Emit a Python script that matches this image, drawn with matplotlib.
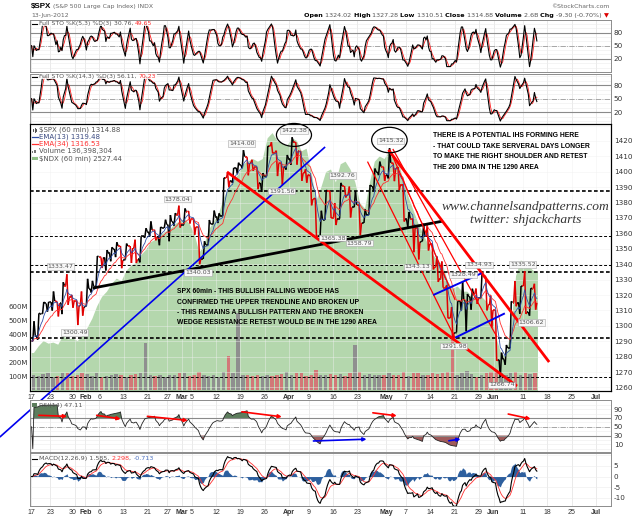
import numpy as np
import pandas as pd
import matplotlib
matplotlib.use("Agg")
import matplotlib.pyplot as plt
import matplotlib.transforms as mtransforms
from matplotlib.collections import LineCollection
from matplotlib.patches import Ellipse, Rectangle
from matplotlib.lines import Line2D

W, H = 640, 517
HOLIDAYS = ["2012-01-16", "2012-02-20", "2012-04-06", "2012-05-28", "2012-07-04"]
FIRST = "2012-01-17"

# daily SPX values (Jan 17 .. Jun 13 2012)
spx_high = [
    1303.0, 1308.1, 1315.5, 1315.5, 1322.3, 1315.6, 1328.3, 1333.5, 1320.1, 1316.3, 1322.3,
    1330.5, 1329.2, 1345.3, 1344.4, 1349.2, 1351.0, 1354.3, 1351.9, 1353.4, 1351.8,
    1355.9, 1358.0, 1363.4, 1367.8, 1362.3, 1364.2, 1368.9, 1371.9, 1373.1, 1378.0,
    1376.2, 1374.5, 1369.6, 1364.3, 1354.9, 1368.7, 1374.8, 1373.0, 1396.1, 1399.4, 1402.6,
    1405.9, 1414.0, 1409.5, 1407.8, 1402.9, 1399.2, 1416.6, 1419.2, 1413.7, 1405.5, 1410.9,
    1422.4, 1419.2, 1413.3, 1401.6, 1397.1, 1383.0, 1374.7, 1388.1, 1387.6, 1379.7,
    1392.8, 1390.8, 1390.4, 1387.4, 1378.5, 1375.6, 1391.4, 1402.1, 1406.6, 1403.1,
    1415.3, 1405.5, 1403.1, 1391.5, 1373.9, 1369.6, 1363.7, 1365.9, 1365.2, 1353.4, 1344.9,
    1341.8, 1326.4, 1312.2, 1316.0, 1328.5, 1320.7, 1324.1, 1324.2, 1334.9, 1332.0, 1319.7,
    1310.3, 1282.6, 1287.6, 1315.9, 1329.1, 1325.8, 1335.5, 1324.4, 1327.3]
spx_low = [
    1290.0, 1291.0, 1307.8, 1309.2, 1309.9, 1306.1, 1307.6, 1313.6, 1311.7, 1300.5, 1306.6,
    1313.0, 1321.6, 1326.0, 1337.5, 1335.9, 1341.9, 1344.6, 1337.4, 1343.0, 1340.8,
    1340.8, 1341.2, 1357.2, 1358.1, 1355.5, 1352.3, 1363.5, 1354.9, 1365.0, 1363.8,
    1365.7, 1366.4, 1359.1, 1340.0, 1343.4, 1352.6, 1365.9, 1366.7, 1371.4, 1389.9, 1392.8,
    1398.8, 1402.4, 1397.7, 1400.6, 1388.7, 1386.9, 1397.1, 1411.9, 1397.2, 1391.6, 1401.4,
    1404.5, 1404.6, 1394.1, 1392.9, 1378.2, 1357.4, 1358.6, 1368.8, 1369.9, 1365.4,
    1369.6, 1383.3, 1370.3, 1376.9, 1358.8, 1366.8, 1372.1, 1387.3, 1397.8, 1394.0,
    1395.7, 1393.9, 1388.1, 1367.7, 1363.9, 1347.8, 1343.1, 1355.0, 1348.9, 1336.6, 1328.5,
    1324.8, 1304.9, 1292.0, 1295.7, 1310.0, 1296.5, 1310.5, 1314.2, 1318.0, 1310.0, 1298.9,
    1277.3, 1266.7, 1274.7, 1285.6, 1312.7, 1307.8, 1307.7, 1306.6, 1310.5]
spx_close = [
    1293.7, 1308.0, 1314.5, 1315.4, 1316.0, 1314.7, 1326.1, 1318.4, 1316.3, 1313.0, 1312.4,
    1324.1, 1325.5, 1344.9, 1344.3, 1347.1, 1350.0, 1351.9, 1342.6, 1351.8, 1350.5,
    1343.2, 1358.0, 1361.2, 1362.2, 1357.7, 1363.5, 1365.7, 1367.6, 1372.2, 1365.7,
    1374.1, 1369.6, 1364.3, 1343.4, 1352.6, 1365.9, 1370.9, 1371.1, 1395.9, 1394.3, 1402.6,
    1404.2, 1409.8, 1405.5, 1402.9, 1392.8, 1397.1, 1416.5, 1412.5, 1405.5, 1403.3, 1408.5,
    1419.0, 1413.4, 1399.0, 1398.1, 1382.2, 1358.6, 1368.7, 1387.6, 1370.3, 1369.6,
    1390.8, 1385.1, 1376.9, 1378.5, 1366.9, 1372.0, 1390.7, 1400.0, 1403.4, 1397.9,
    1405.8, 1402.3, 1391.6, 1369.1, 1369.6, 1363.7, 1354.6, 1358.0, 1353.4, 1338.4, 1330.7,
    1324.8, 1304.9, 1295.2, 1316.0, 1316.6, 1318.9, 1320.7, 1317.8, 1332.4, 1313.3, 1310.3,
    1278.0, 1278.2, 1285.5, 1315.1, 1315.0, 1325.7, 1308.9, 1324.2, 1314.9]
spx_first_open = 1290.2

# $NDX overlay (green area)
ndx_close = [
    2372, 2385, 2395, 2390, 2392, 2388, 2405, 2398, 2400, 2395, 2405,
    2420, 2438, 2462, 2480, 2490, 2505, 2515, 2510, 2530, 2540,
    2545, 2560, 2570, 2585, 2590, 2600, 2605, 2610, 2620, 2625,
    2630, 2620, 2600, 2565, 2580, 2610, 2625, 2640, 2670, 2690, 2705,
    2715, 2735, 2740, 2745, 2740, 2745, 2785, 2795, 2780, 2775, 2770,
    2785, 2780, 2760, 2765, 2720, 2665, 2690, 2720, 2725, 2700,
    2735, 2740, 2725, 2700, 2660, 2650, 2700, 2740, 2750, 2745,
    2760, 2750, 2735, 2700, 2670, 2645, 2620, 2600, 2580, 2560, 2550,
    2540, 2510, 2495, 2500, 2490, 2490, 2480, 2475, 2480, 2470, 2455,
    2400, 2370, 2365, 2420, 2520, 2550, 2545, 2535, 2527]

# tallest hourly volume bar per day, millions
volume_m = [
    110, 100, 115, 120, 95, 100, 125, 120, 100, 110, 120,
    115, 100, 120, 90, 100, 105, 115, 110, 95, 105,
    115, 120, 335, 110, 100, 110, 95, 110, 105, 125,
    120, 100, 105, 130, 110, 100, 105, 95, 130, 240, 120,
    550, 110, 105, 100, 110, 100, 105, 100, 110, 115, 130,
    110, 120, 125, 100, 110, 140, 110, 105, 115, 110,
    115, 100, 120, 320, 130, 110, 115, 105, 110, 105,
    120, 105, 110, 130, 100, 120, 125, 110, 105, 120, 115,
    120, 130, 415, 110, 120, 135, 115, 95, 110, 125, 130,
    140, 125, 110, 120, 130, 110, 120, 115, 120]

hlines_thick = [1387.5, 1335.0, 1292.0]
hlines_thin = [1358.5, 1339.5, 1266.5]

xtick_dates = ["2012-01-17", "2012-01-23", "2012-01-30", "2012-02-01", "2012-02-06",
               "2012-02-13", "2012-02-21", "2012-02-27", "2012-03-01", "2012-03-05",
               "2012-03-12", "2012-03-19", "2012-03-26", "2012-04-02", "2012-04-09",
               "2012-04-16", "2012-04-23", "2012-05-01", "2012-05-07", "2012-05-14",
               "2012-05-21", "2012-05-29", "2012-06-01", "2012-06-11", "2012-06-18",
               "2012-06-25", "2012-07-02"]
xtick_labels = ["17", "23", "30", "Feb", "6", "13", "21", "27", "Mar", "5", "12", "19", "26",
                "Apr", "9", "16", "23", "May", "7", "14", "21", "29", "Jun", "11", "18", "25", "Jul"]
MONTHS = {"Feb", "Mar", "Apr", "May", "Jun", "Jul"}

# price labels on the chart: text, day position, price position
price_labels = [
    ("1422.38", 54.0, 1426.5), ("1415.32", 73.9, 1420.0), ("1414.00", 43.3, 1418.5),
    ("1392.76", 63.9, 1397.5), ("1378.04", 30.0, 1382.3), ("1391.56", 51.5, 1387.5),
    ("1365.38", 62.0, 1357.0), ("1358.79", 67.4, 1353.6), ("1343.13", 79.3, 1338.2),
    ("1340.03", 34.3, 1334.5), ("1333.47", 6.0, 1338.4), ("1300.49", 9.0, 1295.8),
    ("1328.49", 88.7, 1333.0), ("1334.93", 92.0, 1339.5), ("1335.52", 101.0, 1339.9),
    ("1306.62", 102.7, 1302.0), ("1291.98", 86.8, 1286.9), ("1266.74", 96.7, 1261.6)]

# hand drawn trend lines: (day0, price0, day1, price1, colour, width)
trendlines = [
    (12.7, 1324.5, 84.6, 1368.0, "black", 2.0),
    (-6.4, 1227.8, 60.4, 1416.1, "#0000ee", 1.2),
    (40.25, 1399.9, 99.8, 1260.9, "#ff0000", 2.0),
    (73.4, 1414.2, 106.4, 1276.5, "#ff0000", 2.0),
    (69.1, 1406.6, 87.1, 1291.9, "#ff0000", 0.9),
    (73.7, 1414.2, 87.1, 1316.8, "#ff0000", 0.9),
    (74.3, 1414.8, 95.7, 1292.7, "#ff0000", 0.9),
    (82.6, 1320.0, 92.5, 1334.1, "#0000ee", 1.4),
    (87.1, 1292.3, 97.3, 1308.1, "#0000ee", 1.4),
]
# RSI divergence arrows: (day0, rsi0, day1, rsi1, colour)
rsi_arrows = [
    (1.6, 76.1, 7.4, 73.8, "#ff0000"), (13.5, 76.1, 18.4, 67.9, "#ff0000"),
    (23.9, 73.8, 32.2, 64.4, "#ff0000"), (43.3, 84.1, 51.5, 72.7, "#ff0000"),
    (70.2, 81.8, 75.1, 75.0, "#ff0000"), (98.0, 79.0, 102.6, 67.9, "#ff0000"),
    (58.0, 17.6, 68.9, 21.7, "#0000ee"), (85.8, 18.1, 88.2, 22.0, "#0000ee")]

IHS_TEXT = ["THERE IS A POTENTIAL IHS FORMING HERE",
            "- THAT COULD TAKE SERVERAL DAYS LONGER",
            "TO MAKE THE RIGHT SHOULDER AND RETEST",
            "THE 200 DMA IN THE 1290 AREA"]
WEDGE_TEXT = ["SPX 60min - THIS BULLISH FALLING WEDGE HAS",
              "CONFIRMED THE UPPER TRENDLINE AND BROKEN UP",
              "- THIS REMAINS A BULLISH PATTERN AND THE BROKEN",
              "WEDGE RESISTANCE RETEST WOULD BE IN THE 1290 AREA"]


def day_idx(date):
    return float(np.busday_count(FIRST, date, holidays=HOLIDAYS))


def ema(x, span):
    return pd.Series(x).ewm(span=span, adjust=False).mean().to_numpy()


def full_sto(p, n, sk, sd):
    s = pd.Series(p)
    hh = s.rolling(n, min_periods=1).max()
    ll = s.rolling(n, min_periods=1).min()
    raw = (100 * (s - ll) / (hh - ll).replace(0, np.nan)).fillna(50)
    k = raw.rolling(sk, min_periods=1).mean()
    d = k.rolling(sd, min_periods=1).mean()
    return k.to_numpy(), d.to_numpy()


def rsi(p, n):
    d = np.diff(p, prepend=p[0])
    up = pd.Series(np.clip(d, 0, None)).ewm(alpha=1.0 / n, adjust=False).mean()
    dn = pd.Series(np.clip(-d, 0, None)).ewm(alpha=1.0 / n, adjust=False).mean()
    return (100 - 100 / (1 + up / dn.replace(0, np.nan))).fillna(50).to_numpy()


# intraday path: open, low/high, high/low, close for each day
hi = np.array(spx_high)
lo = np.array(spx_low)
cl = np.array(spx_close)
op = np.r_[spx_first_open, cl[:-1]]
nd = len(cl)
px_x, px_y, px_up = [], [], []
for i in range(nd):
    up = cl[i] >= op[i]
    mids = (lo[i], hi[i]) if up else (hi[i], lo[i])
    px_x += [i + 0.125, i + 0.375, i + 0.625, i + 0.875]
    px_y += [op[i], mids[0], mids[1], cl[i]]
    px_up += [up] * 4
px_x = np.array(px_x)
px_y = np.array(px_y)
px_sm = pd.Series(px_y).rolling(4, min_periods=1).mean().to_numpy()

ema13 = ema(px_y, 7)
ema34 = ema(px_y, 19)
k1, d1 = full_sto(px_y, 6, 4, 3)
k2, d2 = full_sto(px_y, 16, 4, 3)
rsi14 = rsi(px_sm, 14)
macd = ema(px_y, 9) - ema(px_y, 20)
signal = ema(macd, 7)
hist = macd - signal

xt = [day_idx(d) for d in xtick_dates]
XL = (-0.2, 119.1)

fig = plt.figure(figsize=(W / 100, H / 100), dpi=100)
fig.patch.set_facecolor("white")


def rect(l, t, r, b):
    return [l / W, 1 - b / H, (r - l) / W, (b - t) / H]


def fy(y):
    return 1 - y / H


def ftext(x, y, s, **kw):
    kw.setdefault("va", "center")
    kw.setdefault("family", "DejaVu Sans")
    return fig.text(x / W, fy(y), s, **kw)


def text_row(x, y, pieces, size, align="left", bg=False):
    r = fig.canvas.get_renderer()
    seq = pieces if align == "left" else list(reversed(pieces))
    for s, color, weight in seq:
        t = ftext(x, y, s, fontsize=size, color=color, fontweight=weight, ha=align, zorder=20)
        if bg:
            t.set_bbox(dict(boxstyle="square,pad=0.05", fc="white", ec="none", alpha=0.85))
        w = t.get_window_extent(r).width
        x = x + w if align == "left" else x - w
    return x


def style_panel(ax, yl, ticks):
    ax.set_xlim(*XL)
    ax.set_ylim(*yl)
    for s in ax.spines.values():
        s.set_color("#8c8c8c")
        s.set_linewidth(0.7)
    ax.set_xticks(xt)
    ax.set_xticklabels([])
    ax.tick_params(length=0, labelsize=5.2, colors="#333333", pad=2)
    for x in xt:
        ax.axvline(x, color="#e2e2e2", lw=0.5, zorder=0)
    ax.yaxis.tick_right()
    ax.set_yticks(ticks)
    ax.set_yticklabels([str(t) for t in ticks])


def bottom_labels(ax):
    ax.set_xticklabels(xtick_labels)
    for t in ax.get_xticklabels():
        t.set_fontsize(5.0)
        t.set_family("Liberation Sans")
        t.set_color("#333333")
        s = t.get_text()
        if s in MONTHS:
            t.set_fontweight("bold")
        shift = {"30": -1.8, "Feb": 0.8}.get(s, 0)
        if shift:
            t.set_transform(t.get_transform() + mtransforms.ScaledTranslation(shift / 100, 0, fig.dpi_scale_trans))


# ---- stochastics
for (top, bot, k, d, name, kv, dv) in [
        (20.5, 72.0, k1, d1, "Full STO %K(5,3) %D(3) ", "30.76", "49.65"),
        (73.5, 123.5, k2, d2, "Full STO %K(14,3) %D(3) ", "56.11", "70.23")]:
    ax = fig.add_axes(rect(30, top, 611, bot))
    yl = (-10, 107.6) if top < 50 else (-4.8, 105.7)
    style_panel(ax, yl, [20, 50, 80])
    for lvl in range(0, 101, 10):
        ax.axhline(lvl, color="#ececec", lw=0.4, zorder=0)
    ax.axhline(80, color="#8a8a8a", lw=0.8)
    ax.axhline(20, color="#8a8a8a", lw=0.8)
    ax.axhline(50, color="#9a9a9a", lw=0.6, ls="-.")
    ax.plot(px_x, d, color="#ff2020", lw=0.6)
    ax.plot(px_x, k, color="black", lw=0.8)
    fig.add_artist(Line2D([32 / W, 37 / W], [fy(top + 3)] * 2, color="black", lw=0.8, zorder=21))
    text_row(39, top + 3, [(name, "#555555", "normal"), (kv + ", ", "#555555", "normal"),
                           (dv, "#ff3030", "normal")], 4.4, bg=True)

# ---- main panel
ax_ndx = fig.add_axes(rect(30, 124, 611, 391))
ax_vol = ax_ndx.twinx()
ax_px = ax_ndx.twinx()

ax_ndx.set_xlim(*XL)
ax_ndx.set_ylim(2298, 2811.5)
ax_ndx.set_yticks([])
ndx_x = np.arange(nd) + 0.5
ax_ndx.fill_between(np.r_[0, ndx_x, nd], np.r_[ndx_close[0], ndx_close, ndx_close[-1]],
                    2290, color="#b4d7ad", lw=0)
for s in ax_ndx.spines.values():
    s.set_color("#8c8c8c")
    s.set_linewidth(0.7)
ax_ndx.set_xticks(xt)
ax_ndx.tick_params(length=0, pad=2)
bottom_labels(ax_ndx)

ax_vol.set_ylim(-7, 1900)
ax_vol.yaxis.tick_left()
ax_vol.set_yticks([100, 200, 300, 400, 500, 600])
ax_vol.set_yticklabels(["100M", "200M", "300M", "400M", "500M", "600M"])
ax_vol.tick_params(length=0, labelsize=5.0, colors="#333333", pad=1.5)
vol_col = ["#8f8f8f" if cl[i] >= op[i] else "#d27878" for i in range(nd)]
ax_vol.bar(np.arange(nd) + 0.5, volume_m, width=0.7, color=vol_col, lw=0)

ax_px.set_xlim(*XL)
ax_px.set_ylim(1257.7, 1431.0)
ax_px.set_yticks(range(1260, 1421, 10))
ax_px.tick_params(length=0, labelsize=5.2, colors="#333333", pad=2)
for x in xt:
    ax_px.axvline(x, color="#f0f0f0", lw=0.5, alpha=0.6, zorder=0)
for lvl in range(1260, 1431, 10):
    ax_px.axhline(lvl, color="#f0f0f0", lw=0.5, alpha=0.6, zorder=0)
for lvl in hlines_thick:
    ax_px.axhline(lvl, color="black", lw=1.2, ls=(0, (2.2, 1.4)))
for lvl in hlines_thin:
    ax_px.axhline(lvl, color="black", lw=0.7, ls=(0, (3, 2)))

pts = np.column_stack([px_x, px_y])
segs = np.stack([pts[:-1], pts[1:]], axis=1)
seg_col = ["black" if u else "#e00000" for u in px_up[1:]]
ax_px.add_collection(LineCollection(segs, colors=seg_col, linewidths=1.1, zorder=3))
ax_px.plot(px_x, ema34, color="#ff3030", lw=0.6, zorder=4)
ax_px.plot(px_x, ema13, color="#3050a8", lw=0.6, zorder=4)

for x0, p0, x1, p1, c, lw in trendlines:
    ax_px.plot([x0, x1], [p0, p1], color=c, lw=lw, solid_capstyle="butt",
               clip_on=(x0 > 0), zorder=5)
ax_px.add_patch(Ellipse((54.0, 1423.9), 7.2, 14.9, fill=False, ec="black", lw=0.9,
                        clip_on=False, zorder=6))
ax_px.add_patch(Ellipse((73.6, 1420.6), 7.3, 16.5, fill=False, ec="black", lw=0.9,
                        clip_on=False, zorder=6))
for s, x, p in price_labels:
    ax_px.text(x, p, s, ha="center", va="center", fontsize=4.5, color="#555555", zorder=7,
               bbox=dict(boxstyle="square,pad=0.12", fc="#f7f7f7", ec="#a8a8a8", lw=0.4))

for i, line in enumerate(IHS_TEXT):
    ftext(433, 135.8 + 10.5 * i, line, fontsize=4.85, fontweight="bold",
          family="Liberation Sans", color="black")
for i, line in enumerate(WEDGE_TEXT):
    ftext(176.7, 291.7 + 10.3 * i, line, fontsize=4.85, fontweight="bold",
          family="Liberation Sans", color="black")
ftext(526, 206.7, "www.channelsandpatterns.com", ha="center", fontsize=9.7,
      family="Liberation Serif", style="italic", color="#333333")
ftext(526, 219.5, "twitter: shjackcharts", ha="center", fontsize=9.7,
      family="Liberation Serif", style="italic", color="#333333")

# main legend
leg = [("$SPX (60 min) 1314.88", "#555555"), ("EMA(13) 1319.48", "#3a4a80"),
       ("EMA(34) 1316.53", "#ff3030"), ("Volume 136,398,304", "#555555"),
       ("$NDX (60 min) 2527.44", "#555555")]
for i, (s, c) in enumerate(leg):
    ftext(39, 130 + 7.1 * i, s, fontsize=5.0, color=c)
for dx, h in [(0, 2.5), (1.5, 3.5), (3, 2)]:
    fig.add_artist(Line2D([(33 + dx) / W] * 2, [fy(130 + h / 2), fy(130 - h / 2)], color="#333333", lw=0.6))
fig.add_artist(Line2D([32 / W, 38 / W], [fy(137.1)] * 2, color="#3050a8", lw=0.9))
fig.add_artist(Line2D([32 / W, 38 / W], [fy(144.2)] * 2, color="#ff3030", lw=0.9))
for dx, h in [(0, 2), (1.5, 3.5), (3, 2.5)]:
    fig.add_artist(Rectangle(((32 + dx) / W, fy(153)), 1.0 / W, h / H, color="#777777", lw=0))
fig.add_artist(Rectangle((32 / W, fy(160)), 6 / W, 3.5 / H, color="#8fbf86", lw=0))

# ---- RSI
ax_rsi = fig.add_axes(rect(30, 400, 611, 452))
style_panel(ax_rsi, (-7.5, 111), [10, 30, 50, 70, 90])
for lvl in range(0, 101, 10):
    ax_rsi.axhline(lvl, color="#ececec", lw=0.4, zorder=0)
ax_rsi.axhline(70, color="#8a8a8a", lw=0.8)
ax_rsi.axhline(30, color="#8a8a8a", lw=0.8)
ax_rsi.axhline(50, color="#9a9a9a", lw=0.6, ls="-.")
ax_rsi.fill_between(px_x, rsi14, 70, where=rsi14 > 70, interpolate=True, color="#5d7d5d", lw=0)
ax_rsi.fill_between(px_x, rsi14, 30, where=rsi14 < 30, interpolate=True, color="#a05a5a", lw=0)
ax_rsi.plot(px_x, rsi14, color="#222222", lw=0.6)
for x0, y0, x1, y1, c in rsi_arrows:
    ax_rsi.annotate("", xy=(x1, y1), xytext=(x0, y0),
                    arrowprops=dict(arrowstyle="-|>", color=c, lw=1.2, mutation_scale=5,
                                    shrinkA=0, shrinkB=0))
fig.add_artist(Rectangle((32 / W, fy(407)), 5 / W, 4 / H, color="#5d7d5d", lw=0))
ftext(39, 405, "RSI(14) 47.11", fontsize=4.6, color="#555555")

# ---- MACD
ax_m = fig.add_axes(rect(30, 453, 611, 506))
style_panel(ax_m, (-13.9, 11.1), [-10, -5, 0, 5])
for lvl in [-10, -5, 0, 5, 10]:
    ax_m.axhline(lvl, color="#ececec", lw=0.4, zorder=0)
ax_m.fill_between(px_x, hist, 0, color="#2d5f9e", lw=0)
ax_m.plot(px_x, signal, color="#ff3030", lw=0.6)
ax_m.plot(px_x, macd, color="black", lw=0.8)
bottom_labels(ax_m)
fig.add_artist(Line2D([32 / W, 37 / W], [fy(458.5)] * 2, color="black", lw=0.8))
text_row(39, 458.5, [("MACD(12,26,9) 1.585, ", "#555555", "normal"), ("2.298", "#ff3030", "normal"),
                     (", ", "#555555", "normal"), ("-0.713", "#4a6fc0", "normal")], 4.6)

# ---- header
ftext(31, 6.5, "$SPX", fontsize=5.8, fontweight="bold", family="Liberation Sans", color="black")
ftext(53, 6.5, "(S&P 500 Large Cap Index) INDX", fontsize=4.4, color="#666666")
ftext(31, 15.5, "13-Jun-2012", fontsize=4.4, color="#666666")
ftext(609, 6.5, "\u00a9StockCharts.com", fontsize=4.4, color="#666666", ha="right")
text_row(609, 15.5, [("Open ", "black", "bold"), ("1324.02 ", "#555555", "normal"),
                     ("High ", "black", "bold"), ("1327.28 ", "#555555", "normal"),
                     ("Low ", "black", "bold"), ("1310.51 ", "#555555", "normal"),
                     ("Close ", "black", "bold"), ("1314.88 ", "#555555", "normal"),
                     ("Volume ", "black", "bold"), ("2.6B ", "#555555", "normal"),
                     ("Chg ", "black", "bold"), ("-9.30 (-0.70%) ", "#555555", "normal"),
                     ("\u25bc", "#dd0000", "normal")], 4.6, align="right")

fig.savefig("out.png", dpi=100, facecolor="white")
